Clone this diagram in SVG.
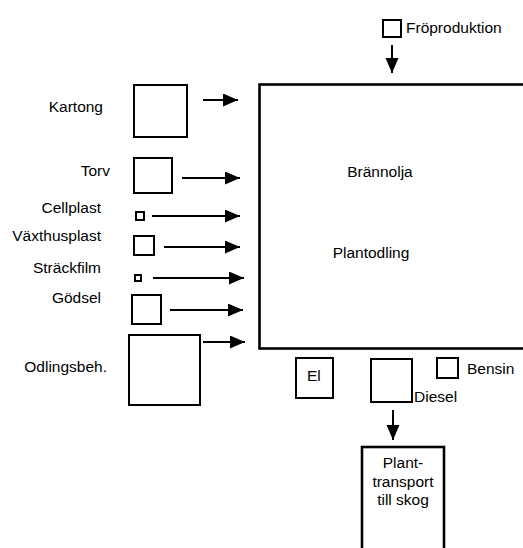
<svg xmlns="http://www.w3.org/2000/svg" width="523" height="548" viewBox="0 0 523 548">
  <defs>
    <marker id="head" markerUnits="userSpaceOnUse" markerWidth="16" markerHeight="14" refX="15" refY="6.5" orient="auto">
      <path d="M0,0 L15,6.5 L0,13 Z" fill="#000"/>
    </marker>
    <style>
      .box { fill: #fff; stroke: #000; stroke-width: 2; }
      .main { fill: #fff; stroke: #000; stroke-width: 2.6; }
      .lbl { font-family: "Liberation Sans", Arial, sans-serif; font-size: 15.5px; fill: #000; }
      .end { text-anchor: end; }
      .mid { text-anchor: middle; }
      .flow { stroke: #000; stroke-width: 2; fill: none; marker-end: url(#head); }
    </style>
  </defs>
  <rect width="523" height="548" fill="#fff"/>

  <!-- process: plant nursery -->
  <g id="plantodling">
    <rect class="main" x="259.5" y="84.5" width="290" height="264"/>
    <text class="lbl mid" x="380" y="177">Brännolja</text>
    <text class="lbl mid" x="371" y="258">Plantodling</text>
  </g>

  <!-- inputs on the left -->
  <g id="kartong">
    <text class="lbl end" x="103" y="112">Kartong</text>
    <rect class="box" x="134" y="85" width="53" height="52"/>
  </g>
  <g id="torv">
    <text class="lbl end" x="110" y="176">Torv</text>
    <rect class="box" x="134" y="158" width="38" height="35"/>
  </g>
  <g id="cellplast">
    <text class="lbl end" x="101" y="213">Cellplast</text>
    <rect class="box" x="136" y="212" width="8" height="8"/>
  </g>
  <g id="vaxthusplast">
    <text class="lbl end" x="101" y="241">Växthusplast</text>
    <rect class="box" x="134" y="236" width="20" height="19"/>
  </g>
  <g id="strackfilm">
    <text class="lbl end" x="101" y="273">Sträckfilm</text>
    <rect class="box" x="135" y="275" width="6" height="6"/>
  </g>
  <g id="godsel">
    <text class="lbl end" x="101" y="303">Gödsel</text>
    <rect class="box" x="132" y="295" width="29" height="29"/>
  </g>
  <g id="odlingsbeh">
    <text class="lbl end" x="107" y="372">Odlingsbeh.</text>
    <rect class="box" x="129" y="335" width="71" height="70"/>
  </g>

  <!-- seed production on top -->
  <g id="froproduktion">
    <rect class="box" x="383" y="20" width="18" height="17"/>
    <text class="lbl" x="406" y="33">Fröproduktion</text>
  </g>

  <!-- energy carriers below -->
  <g id="el">
    <rect class="box" x="296" y="358" width="37" height="40"/>
    <text class="lbl" x="307" y="381">El</text>
  </g>
  <g id="diesel">
    <rect class="box" x="371" y="359" width="41" height="43"/>
    <text class="lbl" x="414" y="402">Diesel</text>
  </g>
  <g id="bensin">
    <rect class="box" x="437" y="358" width="21" height="20"/>
    <text class="lbl" x="467" y="374">Bensin</text>
  </g>

  <!-- transport to forest -->
  <g id="planttransport">
    <rect class="main" x="362" y="447" width="82" height="120"/>
    <text class="lbl mid" x="403" y="468">Plant-</text>
    <text class="lbl mid" x="403" y="487">transport</text>
    <text class="lbl mid" x="403" y="505">till skog</text>
  </g>

  <!-- connectors -->
  <g id="connectors">
    <line class="flow" x1="392" y1="45" x2="392" y2="73"/>
    <line class="flow" x1="203" y1="100" x2="238" y2="100"/>
    <line class="flow" x1="182" y1="178" x2="240" y2="178"/>
    <line class="flow" x1="152" y1="216" x2="240" y2="216"/>
    <line class="flow" x1="164" y1="247" x2="240" y2="247"/>
    <line class="flow" x1="153" y1="278" x2="244" y2="278"/>
    <line class="flow" x1="170" y1="310" x2="243" y2="310"/>
    <line class="flow" x1="203" y1="342" x2="245" y2="342"/>
    <line class="flow" x1="393" y1="410" x2="393" y2="440"/>
  </g>
</svg>
